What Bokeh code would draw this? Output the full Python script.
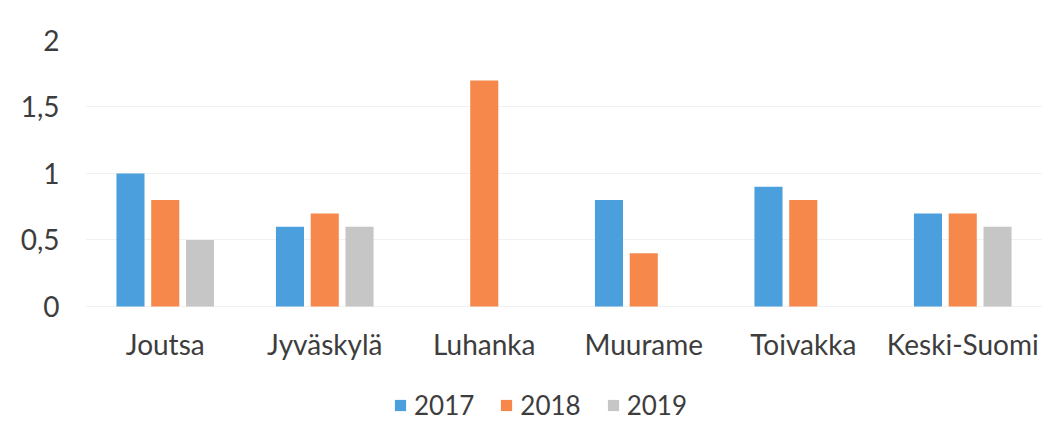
from bokeh.plotting import figure
from bokeh.models import ColumnDataSource, FactorRange, FixedTicker, Legend, LegendItem, Range1d
from bokeh.core.properties import value
from bokeh.transform import dodge
from bokeh.embed import file_html
from bokeh.resources import INLINE

categories = ["Joutsa", "Jyväskylä", "Luhanka", "Muurame", "Toivakka", "Keski-Suomi"]
years = ["2017", "2018", "2019"]
v2017 = [1.0, 0.6, 0.0, 0.8, 0.9, 0.7]
v2018 = [0.8, 0.7, 1.7, 0.4, 0.8, 0.7]
v2019 = [0.5, 0.6, 0.0, 0.0, 0.0, 0.6]
y_ticks = [0, 0.5, 1, 1.5, 2]
y_tick_labels = ["0", "0,5", "1", "1,5", "2"]

colors = ["#4a9fdc", "#f5884a", "#c6c6c6"]
FONT = "Lato"
TXT = "#3d3d3d"

src = ColumnDataSource(dict(cat=categories, y2017=v2017, y2018=v2018, y2019=v2019))

# frame spans down to the figure bottom; the area below 0 holds category labels and legend
p = figure(x_range=FactorRange(*categories), y_range=Range1d(-0.895, 2),
           width=1048, height=425, output_backend="svg", toolbar_location=None,
           x_axis_location=None,
           min_border_left=85, min_border_right=6, min_border_top=40, min_border_bottom=0)
p.outline_line_color = None
p.background_fill_color = "white"
p.border_fill_color = "white"

offsets = [-0.218, 0.0, 0.218]
renderers = []
for yr, col, off in zip(years, colors, offsets):
    r = p.vbar(x=dodge("cat", off, range=p.x_range), top="y" + yr, bottom=0, width=0.176,
               source=src, color=col, line_color=None)
    renderers.append(r)

# category labels
p.text(x="cat", y=-0.285, text="cat", source=src, text_font=value(FONT),
       text_font_size="28px", text_color=TXT, text_align="center",
       text_baseline="alphabetic")

p.yaxis.ticker = FixedTicker(ticks=y_ticks)
p.yaxis.major_label_overrides = {t: l for t, l in zip(y_ticks, y_tick_labels)}
p.yaxis.axis_line_color = None
p.yaxis.major_tick_line_color = None
p.yaxis.minor_tick_line_color = None
p.yaxis.major_label_text_font = FONT
p.yaxis.major_label_text_color = TXT
p.yaxis.major_label_text_font_size = "28px"
p.yaxis.major_label_standoff = 20

p.xgrid.grid_line_color = None
p.ygrid.grid_line_color = "#f1f1f1"
p.ygrid.ticker = FixedTicker(ticks=y_ticks)

legend = Legend(items=[LegendItem(label=yr, renderers=[r]) for yr, r in zip(years, renderers)],
                orientation="horizontal", location=(308, 4))
legend.label_text_font = FONT
legend.label_text_font_size = "26px"
legend.label_text_color = TXT
legend.glyph_width = 14
legend.glyph_height = 14
legend.label_standoff = 7
legend.spacing = 25
legend.border_line_color = None
legend.background_fill_alpha = 0
legend.margin = 0
legend.padding = 0
p.add_layout(legend, "center")

open("out.html", "w").write(file_html(p, INLINE))
